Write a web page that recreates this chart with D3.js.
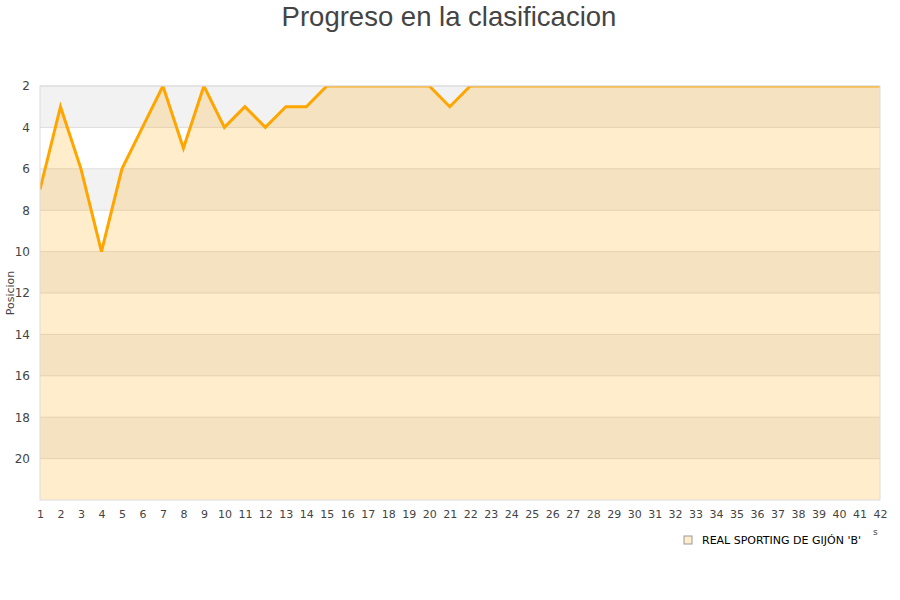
<!DOCTYPE html>
<html>
<head>
<meta charset="utf-8">
<script src="https://cdn.jsdelivr.net/npm/d3@7"></script>
<style>
  body { margin: 0; background: #fff; }
  text { font-family: "DejaVu Sans", sans-serif; }
</style>
</head>
<body>
<div id="chart"></div>
<script>
// jornadas y posiciones
var jornadas = d3.range(1, 43);
var posiciones = [7, 3, 6, 10, 6, 4, 2, 5, 2, 4, 3, 4, 3, 3, 2, 2, 2, 2, 2, 2, 3,
                  2, 2, 2, 2, 2, 2, 2, 2, 2, 2, 2, 2, 2, 2, 2, 2, 2, 2, 2, 2, 2];
var yTicks = [2, 4, 6, 8, 10, 12, 14, 16, 18, 20];
var equipo = "REAL SPORTING DE GIJÓN 'B'";

var margin = {top: 86, right: 20, bottom: 100, left: 40},
    width = 900 - margin.left - margin.right,
    height = 600 - margin.top - margin.bottom;

var svg = d3.select("#chart").append("svg")
    .attr("width", 900)
    .attr("height", 600);

svg.append("text")
  .attr("x", 449).attr("y", 26)
  .attr("text-anchor", "middle")
  .style("font-family", "'Liberation Sans', Arial, sans-serif")
  .style("font-size", "27.5px")
  .attr("fill", "#444")
  .text("Progreso en la clasificacion");

var g = svg.append("g")
  .attr("transform", "translate(" + margin.left + "," + margin.top + ")");

var x = d3.scaleLinear().domain([1, 42]).range([0, width]);
var y = d3.scaleLinear().domain([2, 22]).range([0, height]);

// bandas alternas
var bandas = d3.range(2, 22, 2);
g.selectAll(".band").data(bandas).enter().append("rect")
  .attr("class", "band")
  .attr("x", 0).attr("width", width)
  .attr("y", function(d) { return y(d); })
  .attr("height", function(d) { return y(d + 2) - y(d); })
  .attr("fill", function(d, i) { return i % 2 == 0 ? "#f2f2f2" : "#ffffff"; });

// grid
g.selectAll(".grid").data(yTicks).enter().append("line")
  .attr("x1", 0).attr("x2", width)
  .attr("y1", function(d) { return y(d); })
  .attr("y2", function(d) { return y(d); })
  .attr("stroke", "#dddddd");

g.append("defs").append("clipPath").attr("id", "clip")
  .append("rect").attr("width", width).attr("height", height);

var data = jornadas.map(function(j, i) { return {j: j, p: posiciones[i]}; });

var area = d3.area()
  .x(function(d) { return x(d.j); })
  .y0(height)
  .y1(function(d) { return y(d.p); });

var line = d3.line()
  .x(function(d) { return x(d.j); })
  .y(function(d) { return y(d.p); });

g.append("path").datum(data)
  .attr("d", area)
  .attr("fill", "rgba(255,165,0,0.2)");

g.append("path").datum(data)
  .attr("clip-path", "url(#clip)")
  .attr("d", line)
  .attr("fill", "none")
  .attr("stroke", "#ffa500")
  .attr("stroke-width", 3)
  .attr("stroke-linejoin", "miter");

// borde
g.append("rect")
  .attr("width", width).attr("height", height)
  .attr("fill", "none").attr("stroke", "#dcdcdc");

// ejes
var yAxis = d3.axisLeft(y).tickValues(yTicks).tickSize(0).tickPadding(10);
g.append("g").call(yAxis)
  .call(function(s) { s.select(".domain").remove(); })
  .selectAll("text").style("font-size", "12px").attr("fill", "#444");

var xAxis = d3.axisBottom(x).tickValues(jornadas).tickSize(0).tickPadding(10);
g.append("g").attr("transform", "translate(0," + height + ")").call(xAxis)
  .call(function(s) { s.select(".domain").remove(); })
  .selectAll("text").style("font-size", "11px").attr("fill", "#444");

svg.append("text")
  .attr("transform", "translate(14,293) rotate(-90)")
  .attr("text-anchor", "middle")
  .style("font-size", "11px")
  .attr("fill", "#444")
  .text("Posicion");

svg.append("text")
  .attr("x", 873).attr("y", 535)
  .style("font-size", "9px")
  .attr("fill", "#444")
  .text("s");

// leyenda
svg.append("rect")
  .attr("x", 684).attr("y", 536).attr("width", 8).attr("height", 8)
  .attr("fill", "#ffedcc").attr("stroke", "#999");
svg.append("text")
  .attr("x", 702).attr("y", 544)
  .style("font-size", "11px")
  .attr("fill", "#000")
  .text(equipo);
</script>
</body>
</html>
